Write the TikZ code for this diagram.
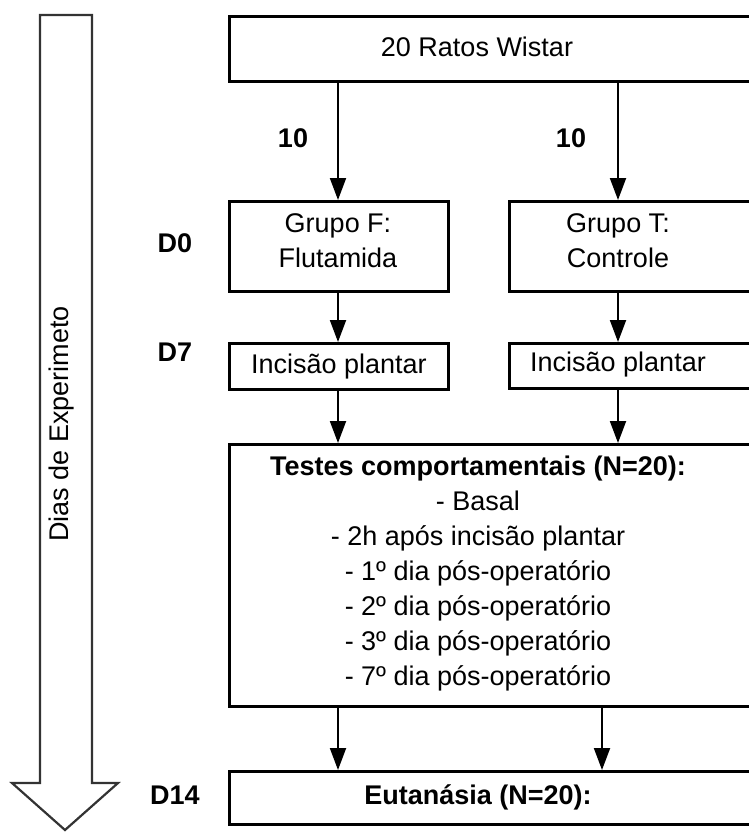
\documentclass[tikz,border=0pt]{standalone}
\usepackage{fontspec}
\setmainfont{Liberation Sans}
\usetikzlibrary{positioning, arrows.meta}

\begin{document}
\begin{tikzpicture}[x=1pt, y=-1pt,
    font=\fontsize{27}{35}\selectfont,
    box/.style={draw=black, line width=2.8pt, inner sep=0pt,
                anchor=north west, align=center},
    boxtext/.style={align=center, inner sep=0pt},
    daylbl/.style={font=\fontsize{27}{35}\selectfont\bfseries},
    arr/.style={-{Triangle[length=22pt, width=16pt]}, line width=2pt},
    timearr/.style={draw=black!80, line width=2.2pt, line join=miter},
]
\clip (0,0) rectangle (749,832);

% ─── Time axis on the left ─────────────────────────────────────────
\draw[timearr] (40,15) -- (92,15) -- (92,783) -- (118,783) -- (65,830)
               -- (12,783) -- (40,783) -- cycle;
\node[rotate=90] (axis) at (62,424) {Dias de Experimeto};

% ─── Start: all animals ───────────────────────────────────────────
% the right side of the wide boxes runs off the page
\node[box, minimum width=540, minimum height=65] (rats) at (228,15) {};
\node[boxtext] (ratsTxt) at (477,47) {20 Ratos Wistar};

% ─── D0: the two groups ───────────────────────────────────────────
\node[daylbl] (d0) at (175,243) {D0};
\node[box, minimum width=219, minimum height=90] (grpF) at (228,200) {};
\node[boxtext] (grpFtxt) at (338,241) {Grupo F:\\Flutamida};
\node[box, minimum width=260, minimum height=90] (grpT) at (508,200) {};
\node[boxtext] (grpTtxt) at (618,241) {Grupo T:\\Controle};

\node[daylbl] (nF) at (293,138) {10};
\node[daylbl] (nT) at (571,138) {10};

% ─── D7: incision ─────────────────────────────────────────────────
\node[daylbl] (d7) at (175,352) {D7};
\node[box, minimum width=219, minimum height=46] (incF) at (228,342)
     {Incisão plantar};
\node[box, minimum width=260, minimum height=45] (incT) at (508,342) {};
\node[boxtext] (incTtxt) at (618,365) {Incisão plantar};

% ─── Behaviour tests ──────────────────────────────────────────────
\node[box, minimum width=540, minimum height=262] (tests) at (228,443) {};
\node[boxtext] (testsTxt) at (478,574)
     {\textbf{Testes comportamentais (N=20):}\\
      - Basal\\
      - 2h após incisão plantar\\
      - 1º dia pós-operatório\\
      - 2º dia pós-operatório\\
      - 3º dia pós-operatório\\
      - 7º dia pós-operatório};

% ─── D14: end ─────────────────────────────────────────────────────
\node[daylbl] (d14) at (175,795) {D14};
\node[box, minimum width=540, minimum height=53] (euta) at (228,770) {};
\node[boxtext, font=\fontsize{27}{35}\selectfont\bfseries] (eutaTxt)
     at (478,797) {Eutanásia (N=20):};

% ─── Edges ───────────────────────────────────────────────────────
\draw[arr] (grpFtxt |- rats.south) -- (grpFtxt |- grpF.north);
\draw[arr] (grpTtxt |- rats.south) -- (grpTtxt |- grpT.north);

\draw[arr] (grpFtxt |- grpF.south) -- (grpFtxt |- incF.north);
\draw[arr] (grpTtxt |- grpT.south) -- (grpTtxt |- incT.north);

\draw[arr] (grpFtxt |- incF.south) -- (grpFtxt |- tests.north);
\draw[arr] (incTtxt |- incT.south) -- (incTtxt |- tests.north);

\draw[arr] (grpFtxt |- tests.south) -- (grpFtxt |- euta.north);
\draw[arr] ([xshift=374]tests.south west) -- ([xshift=374]euta.north west);

\end{tikzpicture}
\end{document}
